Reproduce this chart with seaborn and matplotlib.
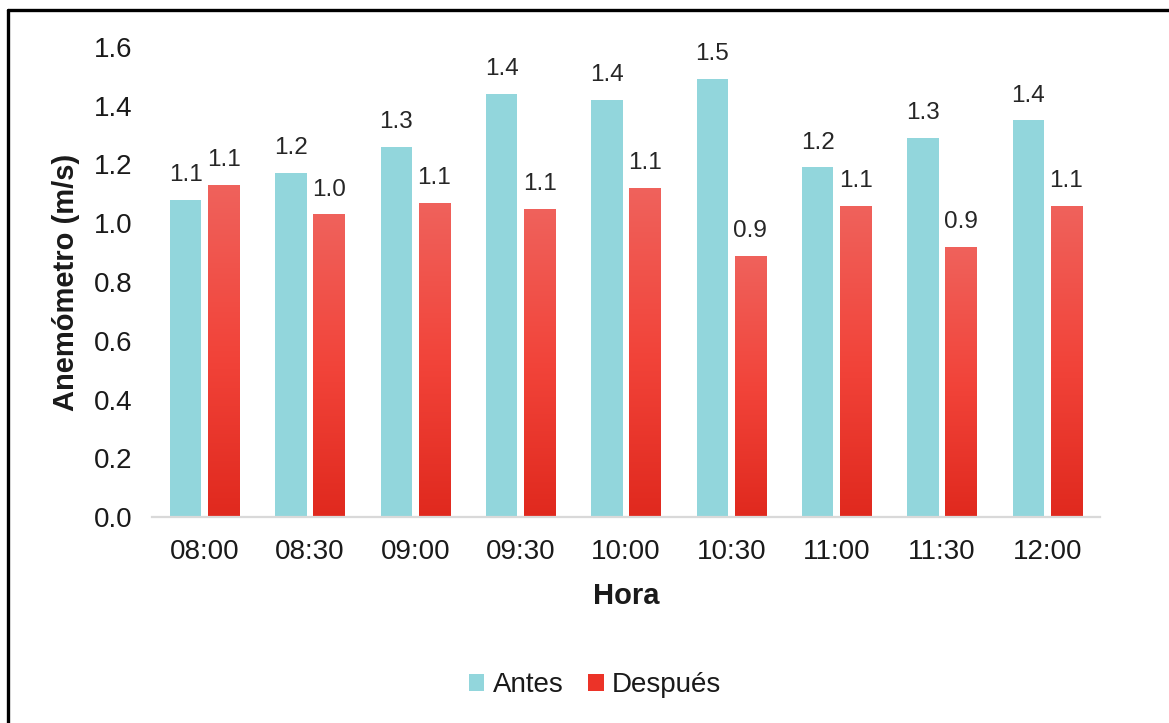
import numpy as np
import pandas as pd
import matplotlib
matplotlib.use("Agg")
import matplotlib.pyplot as plt
from matplotlib.colors import LinearSegmentedColormap
from matplotlib.lines import Line2D
from matplotlib.patches import Patch
import seaborn as sns

# Wind speed readings (m/s) per time slot
horas = ["08:00", "08:30", "09:00", "09:30", "10:00", "10:30", "11:00", "11:30", "12:00"]
antes = [1.08, 1.17, 1.26, 1.44, 1.42, 1.49, 1.19, 1.29, 1.35]
despues = [1.13, 1.03, 1.07, 1.05, 1.12, 0.89, 1.06, 0.92, 1.06]
series = ["Antes", "Después"]

df = pd.DataFrame({
    "Hora": horas * 2,
    "Serie": [series[0]] * len(horas) + [series[1]] * len(horas),
    "Valor": antes + despues,
})

sns.set_theme(style="white")
plt.rcParams["font.family"] = ["Liberation Sans", "DejaVu Sans"]

cyan = "#92D6DC"
red = "#EC3328"
red_cmap = LinearSegmentedColormap.from_list("rojo", ["#E0291E", "#F2443A", "#EF625C"])

fig = plt.figure(figsize=(11.69, 7.23), dpi=100)
ax = fig.add_axes([152 / 1169, 1 - 517 / 723, (1100 - 152) / 1169, (517 - 47) / 723])

sns.barplot(data=df, x="Hora", y="Valor", hue="Serie", order=horas, hue_order=series,
            palette=[cyan, red], width=0.72, gap=0.18, saturation=1, ax=ax,
            legend=False, edgecolor="none", errorbar=None)

# vertical gradient fill for the second series
grad = np.linspace(0, 1, 256).reshape(-1, 1)
for bar in ax.containers[1]:
    x0, y0 = bar.get_x(), bar.get_y()
    w, h = bar.get_width(), bar.get_height()
    im = ax.imshow(grad, cmap=red_cmap, origin="lower", aspect="auto",
                   extent=[x0, x0 + w, y0, y0 + h], zorder=bar.get_zorder() + 0.1)
    im.set_clip_path(bar)

ax.set_xlim(-0.5, len(horas) - 0.5)
ax.set_ylim(0, 1.6)
ax.set_yticks(np.arange(0, 1.61, 0.2))
ax.yaxis.set_major_formatter(plt.FormatStrFormatter("%.1f"))

for cont in ax.containers:
    ax.bar_label(cont, fmt="%.1f", padding=10, fontsize=17.5, color="#262626")

for s in ["top", "right", "left"]:
    ax.spines[s].set_visible(False)
ax.spines["bottom"].set_color("#D9D9D9")
ax.spines["bottom"].set_linewidth(1.6)

ax.tick_params(axis="y", length=0, pad=14, labelsize=20, labelcolor="#1a1a1a")
ax.tick_params(axis="x", length=0, pad=16, labelsize=20, labelcolor="#1a1a1a")
ax.set_xlabel("Hora", fontsize=21, fontweight="bold", labelpad=12, color="#1a1a1a")
ax.set_ylabel("Anemómetro (m/s)", fontsize=21, fontweight="bold", labelpad=10, color="#1a1a1a")

handles = [Patch(facecolor=cyan, edgecolor="none"), Patch(facecolor=red, edgecolor="none")]
fig.legend(handles, series, loc="center", bbox_to_anchor=(595 / 1169, 1 - 685 / 723),
           ncol=2, frameon=False, fontsize=20, handlelength=0.55, handleheight=0.55,
           handletextpad=0.3, columnspacing=0.9, labelcolor="#1a1a1a")

# frame lines along the top and left edges
fig.add_artist(Line2D([7.5 / 1169, 7.5 / 1169], [0, 1 - 9.5 / 723], color="black", linewidth=2.4,
                      transform=fig.transFigure))
fig.add_artist(Line2D([7.5 / 1169, 1], [1 - 9.5 / 723, 1 - 9.5 / 723], color="black", linewidth=2.4,
                      transform=fig.transFigure))

fig.savefig("out.png", dpi=100)
